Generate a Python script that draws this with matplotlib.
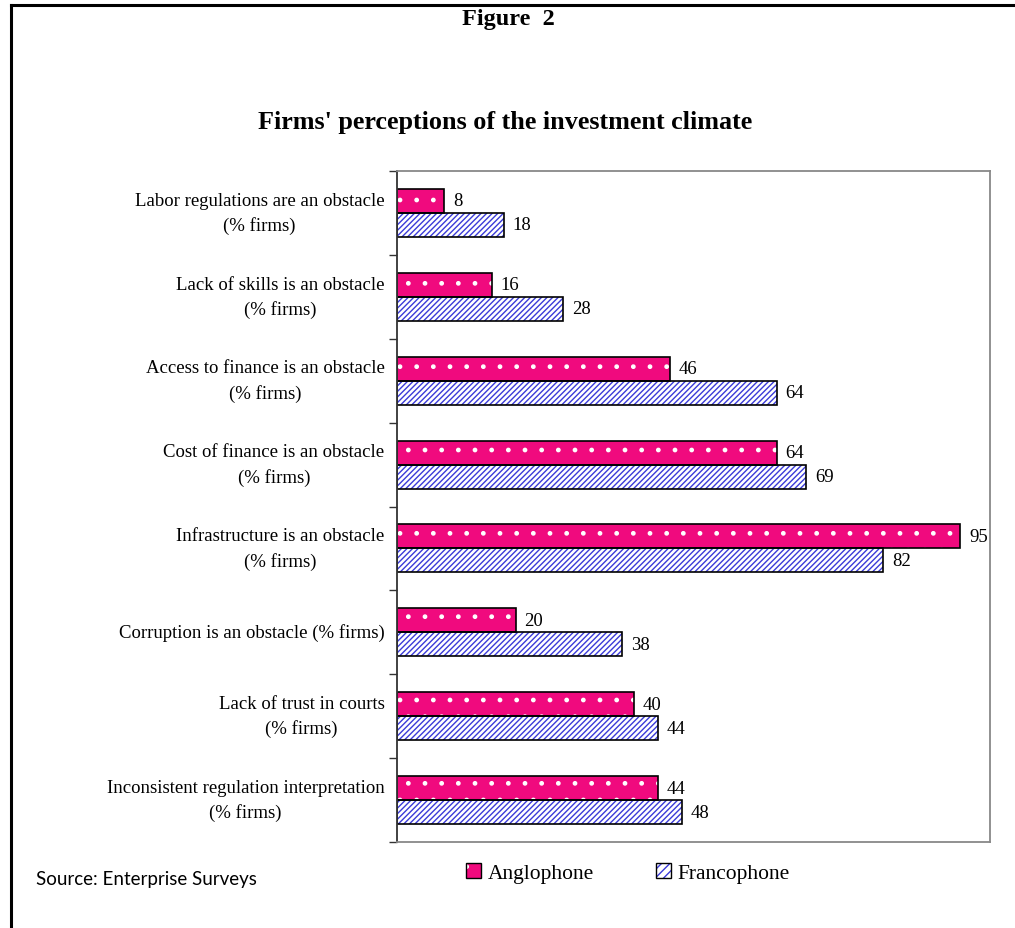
import numpy as np
import matplotlib.pyplot as plt
from matplotlib.lines import Line2D
from matplotlib.patches import Patch

categories = [
    "Labor regulations are an obstacle\n(% firms)",
    "Lack of skills is an obstacle\n(% firms)",
    "Access to finance is an obstacle\n(% firms)",
    "Cost of finance is an obstacle\n(% firms)",
    "Infrastructure is an obstacle\n(% firms)",
    "Corruption is an obstacle (% firms)",
    "Lack of trust in courts\n(% firms)",
    "Inconsistent regulation interpretation\n(% firms)",
]
anglophone = [8, 16, 46, 64, 95, 20, 40, 44]
francophone = [18, 28, 64, 69, 82, 38, 44, 48]

serif = ['Liberation Serif', 'DejaVu Serif']
pink = '#f00a7e'
blue = '#3a3ad8'
plt.rcParams['hatch.linewidth'] = 1.0

fig = plt.figure(figsize=(10.15, 9.29), dpi=100)
ax = fig.add_axes([397 / 1015, 1 - 843 / 929, (990 - 397) / 1015, (843 - 172) / 929])

y = np.arange(len(categories))
h = 0.286
# fills with coloured hatches, then black outlines on top
ax.barh(y - h / 2, anglophone, height=h, color=pink, edgecolor='white', linewidth=0, hatch='.')
ax.barh(y + h / 2, francophone, height=h, color='white', edgecolor=blue, linewidth=0, hatch='//////')
b1 = ax.barh(y - h / 2, anglophone, height=h, fill=False, edgecolor='black', linewidth=1.2)
b2 = ax.barh(y + h / 2, francophone, height=h, fill=False, edgecolor='black', linewidth=1.2)

for bars, vals in ((b1, anglophone), (b2, francophone)):
    for bar, v in zip(bars, vals):
        ax.text(v + 1.5, bar.get_y() + bar.get_height() / 2, str(v), va='center',
                ha='left', fontsize=13.5, family=serif)

ax.set_xlim(0, 100)
ax.set_ylim(len(categories) - 0.5, -0.5)
ax.set_xticks([])
ax.set_yticks(y)
ax.set_yticklabels(categories, family=serif, fontsize=13.5)
for lab in ax.get_yticklabels():
    lab.set_multialignment('center')
    lab.set_linespacing(1.55)
    lab.set_verticalalignment('center')
ax.tick_params(axis='y', which='major', length=0, pad=9)
ax.set_yticks(np.arange(-0.5, len(categories)), minor=True)
ax.tick_params(axis='y', which='minor', length=6, width=1, color='#333333')

ax.spines['left'].set_color('#333333')
ax.spines['left'].set_linewidth(1.3)
for s in ('top', 'right', 'bottom'):
    ax.spines[s].set_color('#888888')
    ax.spines[s].set_linewidth(1.3)

fig.text(508 / 1015, 1 - 20 / 929, 'Figure  2', ha='center', va='center',
         fontsize=17.5, fontweight='bold', family=serif)
fig.text(505 / 1015, 1 - 122 / 929, "Firms' perceptions of the investment climate",
         ha='center', va='center', fontsize=18.8, fontweight='bold', family=serif)
fig.text(36 / 1015, 1 - 880 / 929, 'Source: Enterprise Surveys', ha='left', va='center',
         fontsize=13.5, family=['Lato', 'DejaVu Sans'])

h_ang = (Patch(facecolor=pink, edgecolor='white', linewidth=0, hatch='.'),
         Patch(fill=False, edgecolor='black', linewidth=1.0))
h_fra = (Patch(facecolor='white', edgecolor=blue, linewidth=0, hatch='////'),
         Patch(fill=False, edgecolor='black', linewidth=1.0))
leg = fig.legend(handles=[h_ang, h_fra], labels=['Anglophone', 'Francophone'],
                 loc='center', bbox_to_anchor=(628 / 1015, 1 - 874 / 929),
                 ncol=2, frameon=False, prop={'family': serif, 'size': 15.5},
                 handlelength=0.7, handleheight=0.7, handletextpad=0.3, columnspacing=2.9)

# page border: left and top
fig.add_artist(Line2D([11 / 1015, 11 / 1015], [0, 1 - 6 / 929], color='black', lw=2.2,
                      transform=fig.transFigure))
fig.add_artist(Line2D([11 / 1015, 1], [1 - 6 / 929, 1 - 6 / 929], color='black', lw=2.2,
                      transform=fig.transFigure))

fig.savefig('out.png', dpi=100, facecolor='white')
